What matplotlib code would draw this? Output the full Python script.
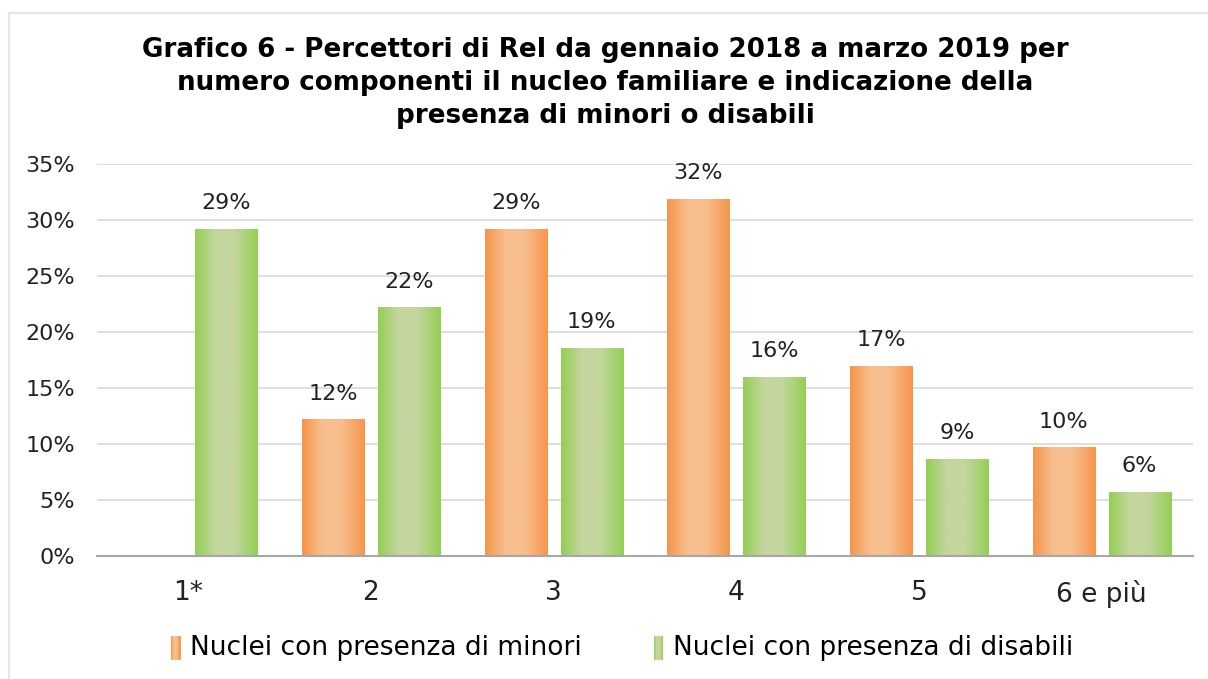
import numpy as np
import matplotlib
matplotlib.use("Agg")
import matplotlib.pyplot as plt
from matplotlib.colors import LinearSegmentedColormap
from matplotlib.lines import Line2D
from matplotlib.patches import Rectangle
from matplotlib.legend_handler import HandlerPatch

categories = ["1*", "2", "3", "4", "5", "6 e più"]
minori = [np.nan, 12.2, 29.2, 31.9, 17.0, 9.7]
disabili = [29.2, 22.2, 18.6, 16.0, 8.7, 5.7]
labels_minori = ["", "12%", "29%", "32%", "17%", "10%"]
labels_disabili = ["29%", "22%", "19%", "16%", "9%", "6%"]
series_names = ["Nuclei con presenza di minori", "Nuclei con presenza di disabili"]
yticks = [0, 5, 10, 15, 20, 25, 30, 35]

title = ("Grafico 6 - Percettori di ReI da gennaio 2018 a marzo 2019 per\n"
         "numero componenti il nucleo familiare e indicazione della\n"
         "presenza di minori o disabili")

W, H = 1208, 679
fig = plt.figure(figsize=(W / 100, H / 100), dpi=100)
ax = fig.add_axes([97 / W, 1 - 556 / H, (1193 - 97) / W, (556 - 164) / H])

orange_dark, orange_light = "#F5954A", "#F8BF8E"
green_dark, green_light = "#93CF54", "#C4D69E"

def grad_cmap(dark, light):
    return LinearSegmentedColormap.from_list(
        "g", [(0, dark), (0.33, light), (0.62, light), (1, dark)])

cm_o = grad_cmap(orange_dark, orange_light)
cm_g = grad_cmap(green_dark, green_light)
grad = np.linspace(0, 1, 256).reshape(1, -1)

x = np.arange(len(categories))
off = 0.208
bw = 0.34
bars_o = ax.bar(x - off, minori, bw, color=orange_dark, zorder=2, linewidth=0)
bars_g = ax.bar(x + off, disabili, bw, color=green_dark, zorder=2, linewidth=0)

for bars, cm in ((bars_o, cm_o), (bars_g, cm_g)):
    for b in bars:
        h = b.get_height()
        if not np.isfinite(h) or h <= 0:
            continue
        im = ax.imshow(grad, cmap=cm, aspect="auto",
                       extent=(b.get_x(), b.get_x() + b.get_width(), 0, h),
                       zorder=3, interpolation="bilinear")
        im.set_clip_path(b)

for bars, labs in ((bars_o, labels_minori), (bars_g, labels_disabili)):
    for b, lab in zip(bars, labs):
        h = b.get_height()
        if not lab or not np.isfinite(h):
            continue
        ax.text(b.get_x() + b.get_width() / 2, h + 2.3, lab, ha="center",
                va="center", fontsize=16, color="#222222", zorder=4)

ax.set_xlim(-0.5, len(categories) - 0.5)
ax.set_ylim(0, 35)
ax.set_yticks(yticks)
ax.set_yticklabels([f"{v}%" for v in yticks], fontsize=16, color="#222222")
ax.set_xticks(x)
ax.set_xticklabels(categories, fontsize=19, color="#222222")
ax.tick_params(axis="y", length=0, pad=16)
ax.tick_params(axis="x", length=0, pad=17)
ax.yaxis.grid(True, color="#D9D9D9", linewidth=1.2, zorder=0)
ax.set_axisbelow(True)
for s in ("top", "right", "left"):
    ax.spines[s].set_visible(False)
ax.spines["bottom"].set_color("#A6A6A6")
ax.spines["bottom"].set_linewidth(1.5)
ax.spines["bottom"].set_zorder(5)

fig.text(605 / W, 1 - 83 / H, title, ha="center", va="center",
         fontsize=18.8, fontweight="bold", linespacing=1.33)

class GradHandler(HandlerPatch):
    def __init__(self, cm):
        super().__init__()
        self.cm = cm
    def create_artists(self, legend, orig_handle, xdescent, ydescent,
                       width, height, fontsize, trans):
        arts = []
        n = 8
        x0 = -xdescent + width * 0.15
        w = width * 0.7
        for i in range(n):
            r = Rectangle((x0 + i * w / n, -ydescent - 0.25 * height),
                          w / n + 0.3, height * 1.3,
                          facecolor=self.cm((i + 0.5) / n), edgecolor="none",
                          transform=trans)
            arts.append(r)
        return arts

h_o = Rectangle((0, 0), 1, 1)
h_g = Rectangle((0, 0), 1, 1)
leg = fig.legend([h_o, h_g], series_names, loc="center",
                 bbox_to_anchor=(621 / W, 1 - 648 / H), ncol=2, frameon=False,
                 fontsize=19, handlelength=0.5, handletextpad=0.3,
                 columnspacing=2.65,
                 handler_map={h_o: GradHandler(cm_o), h_g: GradHandler(cm_g)})

fig.add_artist(Line2D([9 / W, 9 / W], [0, 1 - 13 / H], transform=fig.transFigure,
                      color="#E6E6E6", linewidth=1.5))
fig.add_artist(Line2D([9 / W, 1], [1 - 13 / H, 1 - 13 / H], transform=fig.transFigure,
                      color="#E6E6E6", linewidth=1.5))

fig.savefig("out.png", dpi=100, facecolor="white")
